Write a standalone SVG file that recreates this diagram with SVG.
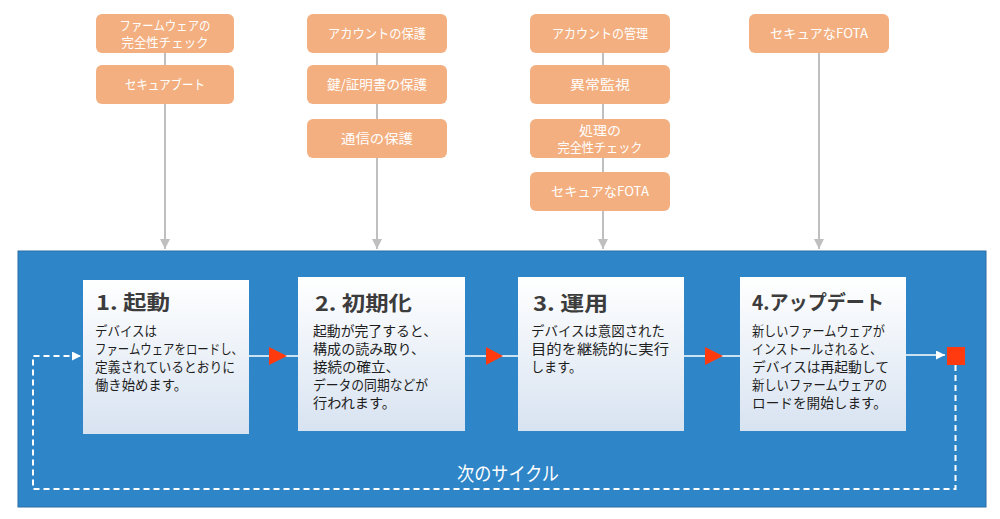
<svg xmlns="http://www.w3.org/2000/svg" width="1000" height="519" viewBox="0 0 1000 519">
<style>
.ob{fill:#F3AF80;}
.ot{fill:#ffffff;font-family:"Noto Sans CJK JP","Noto Sans",sans-serif;font-size:13px;text-anchor:middle;}
.wb{fill:url(#wg);}
.tt{fill:#3C3C3C;font-family:"Noto Sans CJK JP","Noto Sans",sans-serif;font-size:20px;font-weight:bold;}
.bt{fill:#1E1E1E;font-family:"Noto Sans CJK JP","Noto Sans",sans-serif;font-size:13.5px;}
.gl{stroke:#BFBFBF;stroke-width:2;fill:none;}
.wl{stroke:#ffffff;stroke-width:1.5;fill:none;}
.dl{stroke:#ffffff;stroke-width:2;fill:none;stroke-dasharray:6 4;}
.rt{fill:#FF3A0F;}
</style>
<defs>
<linearGradient id="wg" x1="0" y1="0" x2="0" y2="1">
<stop offset="0" stop-color="#FFFFFF"/>
<stop offset="1" stop-color="#D8E3F1"/>
</linearGradient>
<marker id="ga" viewBox="0 0 10 10" refX="10" refY="5" markerWidth="5" markerHeight="5" orient="auto" markerUnits="strokeWidth">
<path d="M0,0 L10,5 L0,10 z" fill="#BFBFBF"/>
</marker>
<marker id="wa" viewBox="0 0 10 10" refX="10" refY="5" markerWidth="6" markerHeight="6" orient="auto" markerUnits="strokeWidth">
<path d="M0,0 L10,5 L0,10 z" fill="#ffffff"/>
</marker>
<marker id="wa2" viewBox="0 0 10 10" refX="10" refY="5" markerWidth="4.5" markerHeight="4.5" orient="auto" markerUnits="strokeWidth">
<path d="M0,0 L10,5 L0,10 z" fill="#ffffff"/>
</marker>
</defs>
<rect width="1000" height="519" fill="#ffffff"/>

<g id="panel">
<rect x="18" y="251" width="968" height="256" fill="#2E86C8" stroke="#2A6DA6" stroke-width="1"/>
</g>

<g id="connectors">
<line class="gl" x1="165" y1="53" x2="165" y2="249" marker-end="url(#ga)"/>
<line class="gl" x1="377" y1="53" x2="377" y2="249" marker-end="url(#ga)"/>
<line class="gl" x1="603" y1="53" x2="603" y2="249" marker-end="url(#ga)"/>
<line class="gl" x1="819" y1="53" x2="819" y2="249" marker-end="url(#ga)"/>
<line class="wl" x1="249" y1="356" x2="298" y2="356"/>
<line class="wl" x1="465" y1="356" x2="518" y2="356"/>
<line class="wl" x1="684" y1="356" x2="740" y2="356"/>
<polygon class="rt" points="269,347 287,356 269,365"/>
<polygon class="rt" points="486,347 503,356 486,365"/>
<polygon class="rt" points="705,347 723,356 705,365"/>
<line class="wl" x1="906" y1="355" x2="945" y2="355" marker-end="url(#wa)"/>
<polyline class="dl" points="955.5,365 955.5,489 33,489 33,356 81,356" marker-end="url(#wa2)"/>
<text x="508" y="481" fill="#ffffff" font-family="'Noto Sans CJK JP','Noto Sans',sans-serif" font-size="19" text-anchor="middle" textLength="102" lengthAdjust="spacingAndGlyphs">次のサイクル</text>
</g>

<g id="end">
<rect class="rt" x="947" y="347" width="18" height="18"/>
</g>

<g id="o1a"><rect class="ob" x="96" y="14" width="138" height="39" rx="6"/>
<text class="ot"><tspan x="165" y="30" textLength="91" lengthAdjust="spacingAndGlyphs">ファームウェアの</tspan><tspan x="165" y="47" textLength="87" lengthAdjust="spacingAndGlyphs">完全性チェック</tspan></text></g>
<g id="o1b"><rect class="ob" x="96" y="65" width="138" height="39" rx="6"/>
<text class="ot" x="165" y="89" textLength="80" lengthAdjust="spacingAndGlyphs">セキュアブート</text></g>

<g id="o2a"><rect class="ob" x="307" y="14" width="140" height="39" rx="6"/>
<text class="ot" x="377" y="38" textLength="98" lengthAdjust="spacingAndGlyphs">アカウントの保護</text></g>
<g id="o2b"><rect class="ob" x="307" y="65" width="140" height="39" rx="6"/>
<text class="ot" x="377" y="89" textLength="100" lengthAdjust="spacingAndGlyphs">鍵/証明書の保護</text></g>
<g id="o2c"><rect class="ob" x="307" y="119" width="140" height="39" rx="6"/>
<text class="ot" x="377" y="143" textLength="72" lengthAdjust="spacingAndGlyphs">通信の保護</text></g>

<g id="o3a"><rect class="ob" x="530" y="14" width="140" height="39" rx="6"/>
<text class="ot" x="600" y="38" textLength="96" lengthAdjust="spacingAndGlyphs">アカウントの管理</text></g>
<g id="o3b"><rect class="ob" x="530" y="65" width="140" height="39" rx="6"/>
<text class="ot" x="600" y="89" textLength="60" lengthAdjust="spacingAndGlyphs">異常監視</text></g>
<g id="o3c"><rect class="ob" x="530" y="119" width="140" height="39" rx="6"/>
<text class="ot"><tspan x="600" y="135" textLength="42" lengthAdjust="spacingAndGlyphs">処理の</tspan><tspan x="600" y="152" textLength="85" lengthAdjust="spacingAndGlyphs">完全性チェック</tspan></text></g>
<g id="o3d"><rect class="ob" x="530" y="172" width="140" height="39" rx="6"/>
<text class="ot" x="600" y="196" textLength="98" lengthAdjust="spacingAndGlyphs">セキュアなFOTA</text></g>

<g id="o4a"><rect class="ob" x="749" y="14" width="140" height="39" rx="6"/>
<text class="ot" x="819" y="38" textLength="98" lengthAdjust="spacingAndGlyphs">セキュアなFOTA</text></g>

<g id="s1"><rect class="wb" x="83" y="280" width="166" height="154"/>
<text class="tt" x="96" y="310" textLength="74" lengthAdjust="spacingAndGlyphs">1. 起動</text>
<text class="bt"><tspan x="95" y="336" textLength="62" lengthAdjust="spacingAndGlyphs">デバイスは</tspan><tspan x="95" y="354" textLength="148" lengthAdjust="spacingAndGlyphs">ファームウェアをロードし、</tspan><tspan x="95" y="372" textLength="140" lengthAdjust="spacingAndGlyphs">定義されているとおりに</tspan><tspan x="95" y="390" textLength="92" lengthAdjust="spacingAndGlyphs">働き始めます。</tspan></text></g>

<g id="s2"><rect class="wb" x="298" y="277" width="167" height="154"/>
<text class="tt" x="315" y="311" textLength="97" lengthAdjust="spacingAndGlyphs">2. 初期化</text>
<text class="bt"><tspan x="313" y="336" textLength="124" lengthAdjust="spacingAndGlyphs">起動が完了すると、</tspan><tspan x="313" y="354" textLength="112" lengthAdjust="spacingAndGlyphs">構成の読み取り、</tspan><tspan x="313" y="372" textLength="87" lengthAdjust="spacingAndGlyphs">接続の確立、</tspan><tspan x="313" y="390" textLength="115" lengthAdjust="spacingAndGlyphs">データの同期などが</tspan><tspan x="313" y="408" textLength="83" lengthAdjust="spacingAndGlyphs">行われます。</tspan></text></g>

<g id="s3"><rect class="wb" x="518" y="277" width="166" height="154"/>
<text class="tt" x="533" y="311" textLength="75" lengthAdjust="spacingAndGlyphs">3. 運用</text>
<text class="bt"><tspan x="531" y="336" textLength="134" lengthAdjust="spacingAndGlyphs">デバイスは意図された</tspan><tspan x="531" y="354" textLength="138" lengthAdjust="spacingAndGlyphs">目的を継続的に実行</tspan><tspan x="531" y="372" textLength="51" lengthAdjust="spacingAndGlyphs">します。</tspan></text></g>

<g id="s4"><rect class="wb" x="740" y="277" width="166" height="154"/>
<text class="tt" x="752" y="310" textLength="132" lengthAdjust="spacingAndGlyphs">4.アップデート</text>
<text class="bt"><tspan x="752" y="336" textLength="133" lengthAdjust="spacingAndGlyphs">新しいファームウェアが</tspan><tspan x="752" y="354" textLength="130" lengthAdjust="spacingAndGlyphs">インストールされると、</tspan><tspan x="752" y="372" textLength="137" lengthAdjust="spacingAndGlyphs">デバイスは再起動して</tspan><tspan x="752" y="390" textLength="135" lengthAdjust="spacingAndGlyphs">新しいファームウェアの</tspan><tspan x="752" y="408" textLength="135" lengthAdjust="spacingAndGlyphs">ロードを開始します。</tspan></text></g>
</svg>
